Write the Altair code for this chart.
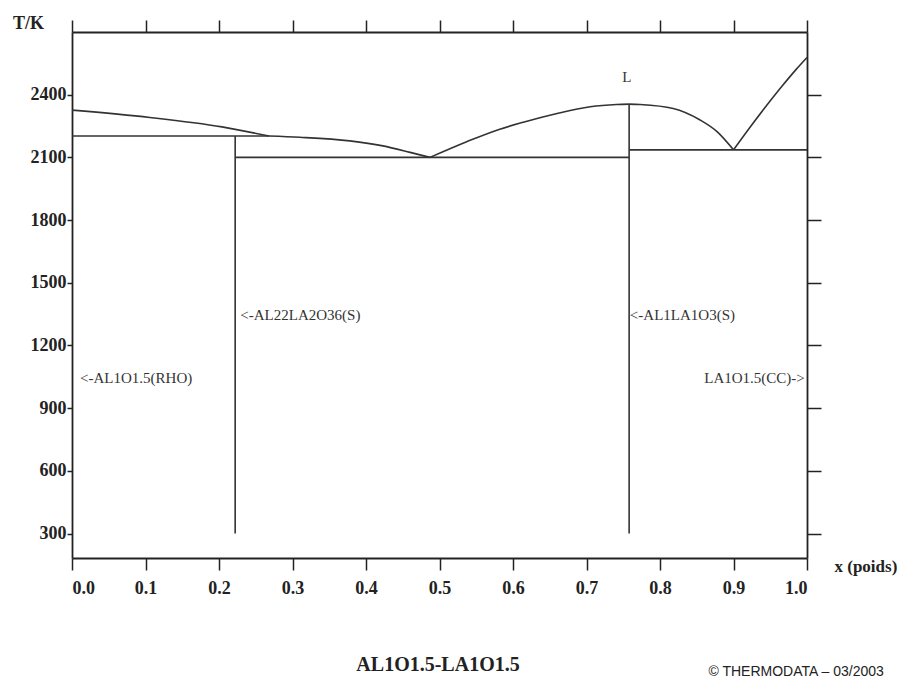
import altair as alt
import pandas as pd

# ---- liquidus branches (x = weight fraction LA1O1.5, T in K) ----
liq1_x = [0.0, 0.106, 0.204, 0.268]
liq1_T = [2326, 2291, 2246, 2202]
liq2_x = [0.268, 0.310, 0.378, 0.423, 0.460, 0.487]
liq2_T = [2202, 2196, 2179, 2155, 2124, 2100]
liq3_x = [0.487, 0.537, 0.582, 0.614, 0.660, 0.705, 0.741, 0.758]
liq3_T = [2100, 2175, 2235, 2268, 2310, 2342, 2353, 2355]
liq4_x = [0.758, 0.773, 0.818, 0.854, 0.878, 0.900]
liq4_T = [2355, 2353, 2334, 2280, 2222, 2136]
liq5_x = [0.900, 0.922, 0.945, 0.967, 0.985, 1.0]
liq5_T = [2136, 2242, 2348, 2445, 2520, 2578]

# ---- invariant (horizontal) lines ----
tie_x1 = [0.0, 0.222, 0.758]
tie_x2 = [0.268, 0.758, 1.0]
tie_T = [2202, 2100, 2136]

# ---- compound lines (vertical) ----
comp_x = [0.222, 0.758]
comp_Tlow = [300, 300]
comp_Thigh = [2202, 2355]

# ---- phase labels ----
lab_left_text = ["<-AL1O1.5(RHO)", "<-AL22LA2O36(S)", "<-AL1LA1O3(S)"]
lab_left_x = [0.011, 0.229, 0.759]
lab_left_T = [1044, 1346, 1346]
lab_right_text = ["LA1O1.5(CC)->"]
lab_right_x = [0.997]
lab_right_T = [1044]
lab_L_text = ["L"]
lab_L_x = [0.755]
lab_L_T = [2485]

title_text = ["AL1O1.5-LA1O1.5"]
title_x = [0.498]
title_T = [-329]
credit_text = ["\u00a9 THERMODATA \u2013 03/2003"]
credit_x = [0.866]
credit_T = [-384]

x_ticks = [round(i * 0.1, 1) for i in range(11)]
y_ticks = [300, 600, 900, 1200, 1500, 1800, 2100, 2400]
x_domain = [0.0, 1.0]
y_domain = [183, 2700]

# ---- build tables ----
rows = []
for name, xs_, ts_ in [("a", liq1_x, liq1_T), ("b", liq2_x, liq2_T), ("c", liq3_x, liq3_T),
                       ("d", liq4_x, liq4_T), ("e", liq5_x, liq5_T)]:
    for i, (xv, tv) in enumerate(zip(xs_, ts_)):
        rows.append({"branch": name, "i": i, "x": xv, "T": tv})
liq = pd.DataFrame(rows)
ties = pd.DataFrame({"x1": tie_x1, "x2": tie_x2, "T": tie_T})
comps = pd.DataFrame({"x": comp_x, "T1": comp_Tlow, "T2": comp_Thigh})

xs = alt.Scale(domain=x_domain, nice=False, zero=False)
ys = alt.Scale(domain=y_domain, nice=False, zero=False)

SERIF = "Liberation Serif"
LINE = "#333333"
AX = "#222222"

main_axis_x = alt.Axis(values=x_ticks, format=".1f", orient="bottom", tickSize=12, tickWidth=1.5,
                       tickColor=AX, domainColor=AX, domainWidth=1.8, labelFont=SERIF,
                       labelFontWeight="bold", labelFontSize=18, labelColor="#222", labelPadding=9,
                       grid=False, title="x (poids)", titleFont=SERIF, titleFontWeight="bold",
                       titleFontSize=17, titleColor="#222", titleAngle=0, titleAlign="left",
                       titleBaseline="alphabetic", titleX=762, titleY=13)
main_axis_y = alt.Axis(values=y_ticks, format="d", orient="left", tickSize=5, tickWidth=1.5,
                       tickColor=AX, domainColor=AX, domainWidth=1.8, labelFont=SERIF,
                       labelFontWeight="bold", labelFontSize=18, labelColor="#222", labelPadding=1,
                       grid=False, title="T/K", titleFont=SERIF, titleFontWeight="bold",
                       titleFontSize=18, titleColor="#222", titleAngle=0, titleAlign="center",
                       titleBaseline="alphabetic", titleX=-44, titleY=-4)
top_axis = alt.Axis(values=x_ticks, orient="top", labels=False, tickSize=12, tickWidth=1.5,
                    tickColor=AX, domainColor=AX, domainWidth=1.8, grid=False, title="")
right_axis = alt.Axis(values=y_ticks, orient="right", labels=False, tickSize=14, tickWidth=1.5,
                      tickColor=AX, domainColor=AX, domainWidth=1.8, grid=False, title="")

lines = alt.Chart(liq).mark_line(interpolate="monotone", color=LINE, strokeWidth=1.6).encode(
    x=alt.X("x:Q", scale=xs, axis=main_axis_x),
    y=alt.Y("T:Q", scale=ys, axis=main_axis_y),
    detail="branch:N",
    order="i:Q",
)

frame = alt.Chart(liq).mark_point(opacity=0).encode(
    x=alt.X("x:Q", scale=xs, axis=top_axis),
    y=alt.Y("T:Q", scale=ys, axis=right_axis),
)

tie_rules = alt.Chart(ties).mark_rule(color=LINE, strokeWidth=1.6).encode(
    x=alt.X("x1:Q", scale=xs, axis=None),
    x2="x2:Q",
    y=alt.Y("T:Q", scale=ys, axis=None),
)

comp_rules = alt.Chart(comps).mark_rule(color=LINE, strokeWidth=1.6).encode(
    x=alt.X("x:Q", scale=xs, axis=None),
    y=alt.Y("T1:Q", scale=ys, axis=None),
    y2="T2:Q",
)


def text_layer(texts, xv, tv, align, size, weight="normal", font=SERIF, baseline="middle", color="#333"):
    df = pd.DataFrame({"t": texts, "x": xv, "T": tv})
    return alt.Chart(df).mark_text(align=align, baseline=baseline, font=font, fontSize=size,
                                   fontWeight=weight, color=color).encode(
        x=alt.X("x:Q", scale=xs, axis=None),
        y=alt.Y("T:Q", scale=ys, axis=None),
        text="t:N",
    )


t_left = text_layer(lab_left_text, lab_left_x, lab_left_T, "left", 15)
t_right = text_layer(lab_right_text, lab_right_x, lab_right_T, "right", 15)
t_L = text_layer(lab_L_text, lab_L_x, lab_L_T, "center", 15)
t_title = text_layer(title_text, title_x, title_T, "center", 20, weight="bold", color="#222")
t_credit = text_layer(credit_text, credit_x, credit_T, "left", 14, font="Liberation Sans",
                      baseline="alphabetic", color="#222")

chart = alt.layer(lines, frame, tie_rules, comp_rules, t_left, t_right, t_L, t_title, t_credit).resolve_axis(
    x="independent", y="independent"
).properties(
    width=735,
    height=526,
    autosize=alt.AutoSizeParams(type="none"),
    padding={"left": 64, "top": 24, "right": 92, "bottom": 120},
    background="white",
).configure_view(strokeWidth=0)

chart.save("out.html", embed_options={"renderer": "svg", "actions": False})
